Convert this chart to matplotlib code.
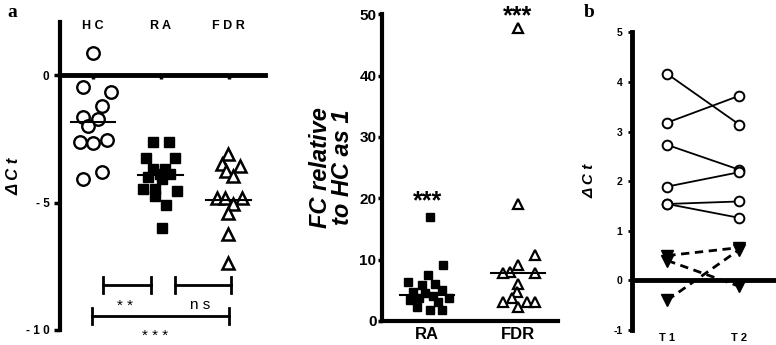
import numpy as np
import matplotlib
matplotlib.use("Agg")
import matplotlib.pyplot as plt

plt.rcParams['font.family'] = ['Liberation Sans', 'DejaVu Sans']

# ---- panel a (left): delta Ct per group ----
groups_a = ['H C', 'R A', 'F D R']
hc_vals = [0.87, -0.45, -0.66, -1.2, -1.65, -1.71, -1.97, -2.6, -2.65, -2.55, -3.78, -4.07]
hc_jit = [0.0, -0.14, 0.27, 0.13, -0.14, 0.08, -0.07, -0.19, 0.0, 0.2, 0.13, -0.14]
ra_vals = [-2.63, -2.63, -3.26, -3.26, -3.68, -3.68, -3.88, -3.88, -4.01, -4.08,
           -4.47, -4.47, -4.54, -4.74, -5.1, -5.99]
ra_jit = [-0.11, 0.12, -0.22, 0.21, -0.11, 0.06, -0.02, 0.13, -0.19, 0.01,
          -0.26, -0.09, 0.23, -0.09, 0.08, 0.01]
fdr_vals = [-3.08, -3.47, -3.55, -3.75, -3.95, -4.82, -4.82, -4.82, -5.05, -5.41, -6.24, -7.38]
fdr_jit = [-0.01, -0.1, 0.16, -0.04, 0.06, -0.18, -0.06, 0.19, 0.06, -0.01, -0.01, -0.01]
medians_a = [-1.83, -3.92, -4.9]

# ---- panel a (right): fold change relative to HC ----
groups_fc = ['RA', 'FDR']
fc_ra = [17.0, 9.1, 7.5, 6.4, 6.1, 5.9, 5.1, 4.8, 4.5, 4.0, 3.7, 3.7, 3.4, 3.15, 2.35, 1.8, 1.8]
fc_ra_jit = [0.03, 0.18, 0.01, -0.21, 0.09, -0.06, 0.16, -0.15, -0.02, 0.07, -0.09, 0.24,
             -0.19, 0.12, -0.11, 0.03, 0.16]
fc_fdr = [47.7, 19.1, 10.8, 9.1, 8.0, 7.8, 7.8, 6.1, 4.8, 3.7, 3.15, 3.15, 3.15, 2.35]
fc_fdr_jit = [0.0, 0.0, 0.19, 0.0, -0.09, -0.16, 0.19, 0.0, -0.01, -0.07, -0.16, 0.1, 0.19, 0.0]
medians_fc = [4.2, 7.8]

# ---- panel b: paired T1 / T2 ----
times = ['T 1', 'T 2']
t1_circ = [4.16, 3.18, 2.73, 1.89, 1.54, 1.54]
t2_circ = [3.14, 3.72, 2.23, 2.18, 1.59, 1.26]
t1_tri = [0.5, 0.4, -0.4]
t2_tri = [0.66, -0.12, 0.62]

fig = plt.figure(figsize=(7.76, 3.45), dpi=100)

# ================= panel a, delta Ct =================
ax1 = fig.add_axes([0.0773, 0.0435, 0.264, 0.893])
xa = np.arange(1, 4)
ax1.plot(xa[0] + np.array(hc_jit), hc_vals, 'o', ms=9, mfc='white', mec='black', mew=1.7, ls='none')
ax1.plot(xa[1] + np.array(ra_jit), ra_vals, 's', ms=6.5, mfc='black', mec='black', ls='none')
ax1.plot(xa[2] + np.array(fdr_jit), fdr_vals, '^', ms=9, mfc='white', mec='black', mew=1.8, ls='none')
for x, m in zip(xa, medians_a):
    ax1.plot([x - 0.33, x + 0.33], [m, m], color='black', lw=1.5)

ax1.set_xlim(0.515, 3.53)
ax1.set_ylim(-10, 2.1)
for s in ['top', 'right']:
    ax1.spines[s].set_visible(False)
ax1.spines['left'].set_linewidth(3)
ax1.spines['bottom'].set_position(('data', 0))
ax1.spines['bottom'].set_linewidth(3.5)
ax1.set_xticks(xa)
ax1.set_xticklabels([])
ax1.tick_params(axis='x', direction='out', length=3, width=2.5)
for x, g in zip(xa, groups_a):
    ax1.text(x, 1.95, g, ha='center', va='center', fontsize=9, fontweight='bold')
ax1.set_yticks([0, -5, -10])
ax1.set_yticklabels(['0', '- 5', '- 1 0'], fontsize=8.5, fontweight='bold')
ax1.tick_params(axis='y', direction='out', length=4, width=2.5)
ax1.set_ylabel('Δ C t', fontsize=12, fontweight='bold', style='italic', labelpad=3)

# significance brackets
def bracket(ax, x0, x1, y, h):
    ax.plot([x0, x1], [y, y], color='black', lw=2, clip_on=False)
    ax.plot([x0, x0], [y - h, y + h], color='black', lw=2, clip_on=False)
    ax.plot([x1, x1], [y - h, y + h], color='black', lw=2, clip_on=False)

bracket(ax1, 1.15, 1.85, -8.23, 0.3)
bracket(ax1, 2.21, 3.03, -8.23, 0.3)
bracket(ax1, 0.99, 3.0, -9.45, 0.3)
ax1.text(1.47, -9.05, '* *', ha='center', va='center', fontsize=11)
ax1.text(2.58, -9.0, 'n s', ha='center', va='center', fontsize=11)
ax1.text(1.92, -10.25, '* * *', ha='center', va='center', fontsize=11, clip_on=False)

# ================= panel a, fold change =================
ax2 = fig.add_axes([0.4923, 0.0696, 0.2268, 0.889])
xf = np.arange(1, 3)
ax2.plot(xf[0] + np.array(fc_ra_jit), fc_ra, 's', ms=5.8, mfc='black', mec='black', ls='none')
ax2.plot(xf[1] + np.array(fc_fdr_jit), fc_fdr, '^', ms=7, mfc='white', mec='black', mew=1.6, ls='none')
for x, m in zip(xf, medians_fc):
    ax2.plot([x - 0.3, x + 0.3], [m, m], color='black', lw=1.5)
ax2.text(xf[0], max(fc_ra) + 2.5, '***', ha='center', va='center', fontsize=18, fontweight='bold')
ax2.text(xf[1], max(fc_fdr) + 2.0, '***', ha='center', va='center', fontsize=18, fontweight='bold',
         clip_on=False)

ax2.set_xlim(0.505, 2.44)
ax2.set_ylim(0, 50)
for s in ['top', 'right']:
    ax2.spines[s].set_visible(False)
for s in ['left', 'bottom']:
    ax2.spines[s].set_linewidth(3)
ax2.set_xticks(xf)
ax2.set_xticklabels(groups_fc, fontsize=12, fontweight='bold')
ax2.tick_params(axis='x', length=0, pad=4)
ax2.set_yticks([0, 10, 20, 30, 40, 50])
ax2.set_yticklabels(['0', '10', '20', '30', '40', '50'], fontsize=11, fontweight='bold')
ax2.tick_params(axis='y', direction='out', length=3, width=2.5, pad=1)
ax2.set_ylabel('FC relative\nto HC as 1', fontsize=17, fontweight='bold', style='italic',
               labelpad=4, linespacing=0.95)

# ================= panel b =================
ax3 = fig.add_axes([0.8144, 0.0435, 0.1856, 0.863])
xt = np.arange(1, 3)
ax3.axhline(0, color='black', lw=3.5, zorder=2)
for a, b in zip(t1_circ, t2_circ):
    ax3.plot(xt, [a, b], '-o', color='black', lw=1.3, ms=7, mfc='white', mec='black', mew=1.4, zorder=3)
for a, b in zip(t1_tri, t2_tri):
    ax3.plot(xt, [a, b], color='black', lw=2, ls=(0, (3, 2)), zorder=3)
    ax3.plot(xt, [a, b], 'v', ms=8.5, mfc='black', mec='black', ls='none', zorder=4)
ax3.set_xlim(0.51, 2.51)
ax3.set_ylim(-1, 5)
for s in ['top', 'right', 'bottom']:
    ax3.spines[s].set_visible(False)
ax3.spines['left'].set_linewidth(3.5)
ax3.set_xticks(xt)
ax3.set_xticklabels(times, fontsize=8, fontweight='bold')
ax3.tick_params(axis='x', length=0, pad=2)
ax3.set_yticks(range(-1, 6))
ax3.set_yticklabels([str(v) for v in range(-1, 6)], fontsize=7.5, fontweight='bold')
ax3.tick_params(axis='y', direction='out', length=3, width=2, pad=4)
ax3.set_ylabel('Δ C t', fontsize=11, fontweight='bold', style='italic', labelpad=12)

# panel letters
fig.text(0.01, 0.965, 'a', fontsize=14, fontweight='bold', family='Liberation Serif', va='center')
fig.text(0.752, 0.965, 'b', fontsize=14, fontweight='bold', family='Liberation Serif', va='center')

fig.savefig('out.png', dpi=100)
